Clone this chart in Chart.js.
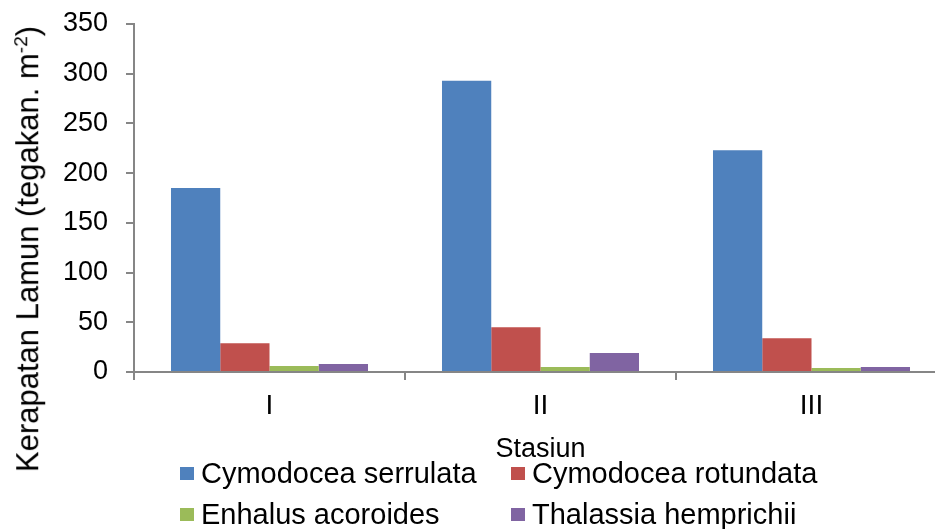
<!DOCTYPE html>
<html>
<head>
<meta charset="utf-8">
<script src="https://cdn.jsdelivr.net/npm/chart.js@4/dist/chart.umd.min.js"></script>
<style>
  html, body { margin: 0; padding: 0; background: #fff; width: 935px; height: 529px; overflow: hidden; }
  #wrap { position: relative; width: 947px; height: 529px; }
  #c { position: absolute; left: 0; top: 0; }
  .ytitle { position: absolute; left: 27px; top: 249px; transform: translate(-50%, -50%) rotate(-90deg);
    white-space: nowrap; font-family: "Liberation Sans", Arial, sans-serif; font-size: 31px; color: #000; line-height: 1; }
  .ytitle sup { font-size: 0.62em; vertical-align: 0.55em; }
  .leg { position: absolute; font-family: "Liberation Sans", Arial, sans-serif; font-size: 29px; color: #000; white-space: nowrap; line-height: 1; }
  .leg .sq { position: absolute; width: 14px; height: 13px; }
  .leg .tx { position: absolute; transform: translateY(-50%); }
</style>
</head>
<body>
<div id="wrap">
  <canvas id="c" width="947" height="529"></canvas>
  <div class="ytitle">Kerapatan Lamun (tegakan. m<sup>-2</sup>)</div>
  <div id="legend"></div>
</div>
<script>
const categories = ["I", "II", "III"];
const seriesNames = ["Cymodocea serrulata", "Cymodocea rotundata", "Enhalus acoroides", "Thalassia hemprichii"];
const cymodoceaSerrulata = [185, 293, 223];
const cymodoceaRotundata = [29, 45, 34];
const enhalusAcoroides = [6, 5, 4];
const thalassiaHemprichii = [8, 19, 5];
const seriesColors = ["#4F81BD", "#C0504D", "#9BBB59", "#8064A2"];
const yTicks = [0, 50, 100, 150, 200, 250, 300, 350];

const seriesValues = [cymodoceaSerrulata, cymodoceaRotundata, enhalusAcoroides, thalassiaHemprichii];
const FONT = "'Liberation Sans', Arial, sans-serif";
const AXIS = "#868686";

const chart = new Chart(document.getElementById("c"), {
  type: "bar",
  data: {
    labels: categories,
    datasets: seriesNames.map((name, i) => ({
      label: name,
      data: seriesValues[i],
      backgroundColor: seriesColors[i],
      borderWidth: 0,
      categoryPercentage: 0.727,
      barPercentage: 1
    }))
  },
  options: {
    responsive: false,
    animation: false,
    devicePixelRatio: 1,
    layout: { padding: { left: 0, right: 0, top: 24, bottom: 0 } },
    plugins: { legend: { display: false }, tooltip: { enabled: false } },
    scales: {
      x: {
        offset: true,
        grid: { display: true, drawOnChartArea: false, drawTicks: true, tickLength: 8, color: AXIS, lineWidth: 2, offset: true },
        border: { display: true, color: AXIS, width: 2 },
        ticks: { color: "#000", font: { family: FONT, size: 28 }, padding: 9, maxRotation: 0 },
        title: { display: true, text: "Stasiun", color: "#000", font: { family: FONT, size: 27 }, padding: { top: 0, bottom: 63 } },
        afterFit: (s) => { s.height = 157; s.paddingLeft = 0; s.paddingRight = 0; }
      },
      y: {
        min: 0, max: 350,
        afterBuildTicks: (s) => { s.ticks = yTicks.map(v => ({ value: v })); },
        grid: { display: true, drawOnChartArea: false, drawTicks: true, tickLength: 8, color: AXIS, lineWidth: 2 },
        border: { display: true, color: AXIS, width: 2 },
        ticks: { color: "#000", font: { family: FONT, size: 27 }, padding: 18 },
        afterFit: (s) => { s.width = 134; s.paddingTop = 0; s.paddingBottom = 0; }
      }
    }
  }
});

// Legend (2 x 2 grid) built from the series arrays
const legend = document.getElementById("legend");
const colX = [180, 511];
const rowY = [473, 514];
seriesNames.forEach((name, i) => {
  const col = i % 2, row = Math.floor(i / 2);
  const item = document.createElement("div");
  item.className = "leg";
  item.style.left = colX[col] + "px";
  item.style.top = rowY[row] + "px";
  const sq = document.createElement("span");
  sq.className = "sq";
  sq.style.background = seriesColors[i];
  sq.style.left = "0px";
  sq.style.top = "-6px";
  const tx = document.createElement("span");
  tx.className = "tx";
  tx.style.left = "21px";
  tx.style.top = "0px";
  tx.textContent = name;
  item.appendChild(sq);
  item.appendChild(tx);
  legend.appendChild(item);
});
</script>
</body>
</html>
